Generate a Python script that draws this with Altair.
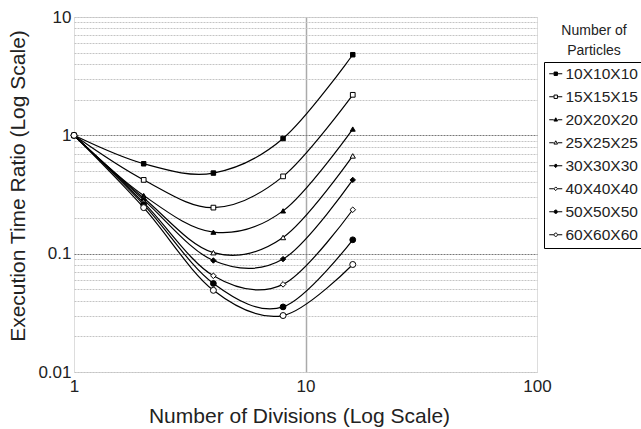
import altair as alt
import pandas as pd

# ---- data ----
divisions = [1, 2, 4, 8, 16]
series_names = ["10X10X10", "15X15X15", "20X20X20", "25X25X25",
                "30X30X30", "40X40X40", "50X50X50", "60X60X60"]
r10 = [1, 0.575, 0.48, 0.94, 4.8]
r15 = [1, 0.42, 0.245, 0.45, 2.2]
r20 = [1, 0.31, 0.152, 0.23, 1.13]
r25 = [1, 0.295, 0.102, 0.137, 0.67]
r30 = [1, 0.285, 0.0875, 0.090, 0.42]
r40 = [1, 0.27, 0.065, 0.055, 0.235]
r50 = [1, 0.26, 0.056, 0.0355, 0.131]
r60 = [1, 0.245, 0.049, 0.030, 0.081]
all_series = [r10, r15, r20, r25, r30, r40, r50, r60]

y_ticks_major = [0.01, 0.1, 1, 10]
y_grid = [0.01, 0.02, 0.03, 0.04, 0.05, 0.06, 0.07, 0.08, 0.09,
          0.1, 0.2, 0.3, 0.4, 0.5, 0.6, 0.7, 0.8, 0.9,
          1, 2, 3, 4, 5, 6, 7, 8, 9, 10]
x_ticks = [1, 10, 100]
legend_title = "Number of\nParticles"

rows = []
for name, vals in zip(series_names, all_series):
    for d, v in zip(divisions, vals):
        rows.append({"Divisions": d, "Ratio": v, "Series": name})
df = pd.DataFrame(rows)

FONT = "Liberation Sans"

# ---- styles ----
plot_shapes = ["square", "square", "triangle-up", "triangle-up",
               "diamond", "diamond", "circle", "circle"]
plot_sizes = [20, 36, 24, 32, 16, 28, 22, 30]
fills = ["black", "white"] * 4
strokes = ["black"] * 8

sq = "M-1,0H-0.3M0.3,0H1M-0.26,-0.26H0.26V0.26H-0.26Z"
tri = "M-1,0H-0.3M0.3,0H1M0,-0.3L0.28,0.2H-0.28Z"
dia = "M-1,0H-0.3M0.3,0H1M0,-0.28L0.28,0L0,0.28L-0.28,0Z"
cir = "M-1,0H-0.3M0.3,0H1M0.26,0A0.26,0.26,0,1,1,-0.26,0A0.26,0.26,0,1,1,0.26,0Z"
legend_shapes = [sq, sq, tri, tri, dia, dia, cir, cir]

xscale = alt.Scale(type="log", domain=[1, 100], nice=False)
yscale = alt.Scale(type="log", domain=[0.01, 10], nice=False)

x_enc = alt.X("Divisions:Q", scale=xscale, axis=alt.Axis(
    values=x_ticks, format="~g", title="Number of Divisions (Log Scale)",
    domain=False, ticks=False, labelFontSize=17, labelPadding=6,
    labelColor="#222", labelFont=FONT,
    grid=True, gridColor="#aaaaaa", gridWidth=1.5,
    gridOpacity={"condition": {"test": "datum.value == 10", "value": 1}, "value": 0},
    titleFontSize=21, titleFont=FONT, titleFontWeight="normal", titleColor="#222",
    titleX=225, titleY=50, titleBaseline="alphabetic",
    labelFlush=False))

y_enc = alt.Y("Ratio:Q", scale=yscale, axis=alt.Axis(
    values=y_grid, format="~g",
    labelExpr="(datum.value == 0.01 || datum.value == 0.1 || datum.value == 1 || datum.value == 10) ? datum.label : ''",
    title="Execution Time Ratio (Log Scale)",
    domain=False, ticks=False, labelFontSize=17, labelPadding=3,
    labelColor="#222", labelFont=FONT, labelFlush=False,
    grid=True, gridDash=[2, 1], gridWidth=1,
    gridColor={"condition": {"test": "datum.value == 0.1 || datum.value == 1", "value": "#777777"},
               "value": "#c4c4c4"},
    titleFontSize=21, titleFont=FONT, titleFontWeight="normal", titleColor="#222",
    titleAngle=270, titleX=-56, titleY=168.5, titleBaseline="middle", titleAlign="center"))

base = alt.Chart(df)

lines = base.mark_line(interpolate="cardinal", color="black", strokeWidth=1.2).encode(
    x=x_enc, y=y_enc, detail="Series:N")

points = base.mark_point(filled=True, stroke="black", strokeWidth=1, opacity=1).encode(
    x="Divisions:Q", y="Ratio:Q",
    shape=alt.Shape("Series:N", scale=alt.Scale(domain=series_names, range=plot_shapes), legend=None),
    fill=alt.Fill("Series:N", scale=alt.Scale(domain=series_names, range=fills), legend=None),
    size=alt.Size("Series:N", scale=alt.Scale(domain=series_names, range=plot_sizes), legend=None),
)

leg = alt.Legend(title=None, orient="none", legendX=470, legendY=45,
                 symbolSize=169, symbolStrokeWidth=1,
                 symbolOpacity=1, labelFontSize=15.5, labelFont=FONT, labelColor="#222",
                 labelOffset=2, rowPadding=6, padding=4, strokeColor="black",
                 labelLimit=200)

legend_layer = base.mark_point(filled=True, strokeWidth=1, opacity=0).encode(
    x="Divisions:Q", y="Ratio:Q",
    shape=alt.Shape("Series:N", scale=alt.Scale(domain=series_names, range=legend_shapes), legend=leg),
    fill=alt.Fill("Series:N", scale=alt.Scale(domain=series_names, range=fills), legend=leg),
    stroke=alt.Stroke("Series:N", scale=alt.Scale(domain=series_names, range=strokes), legend=leg),
)

title_text = alt.Chart(pd.DataFrame({"t": [legend_title]})).mark_text(
    lineBreak="\n", fontSize=14, font=FONT, color="#222", align="center",
    baseline="alphabetic", lineHeight=20).encode(
    text="t:N", x=alt.value(520), y=alt.value(18))

chart = alt.layer(lines, points, legend_layer, title_text).resolve_scale(
    shape="independent", fill="independent", size="independent", stroke="independent"
).properties(
    width=463, height=355,
    autosize=alt.AutoSizeParams(type="none"),
    padding={"left": 74, "top": 17, "right": 104, "bottom": 57},
).configure_view(stroke="#333333", strokeWidth=2).configure(background="white")

chart.save("out.html", embed_options={"renderer": "svg", "actions": False})
